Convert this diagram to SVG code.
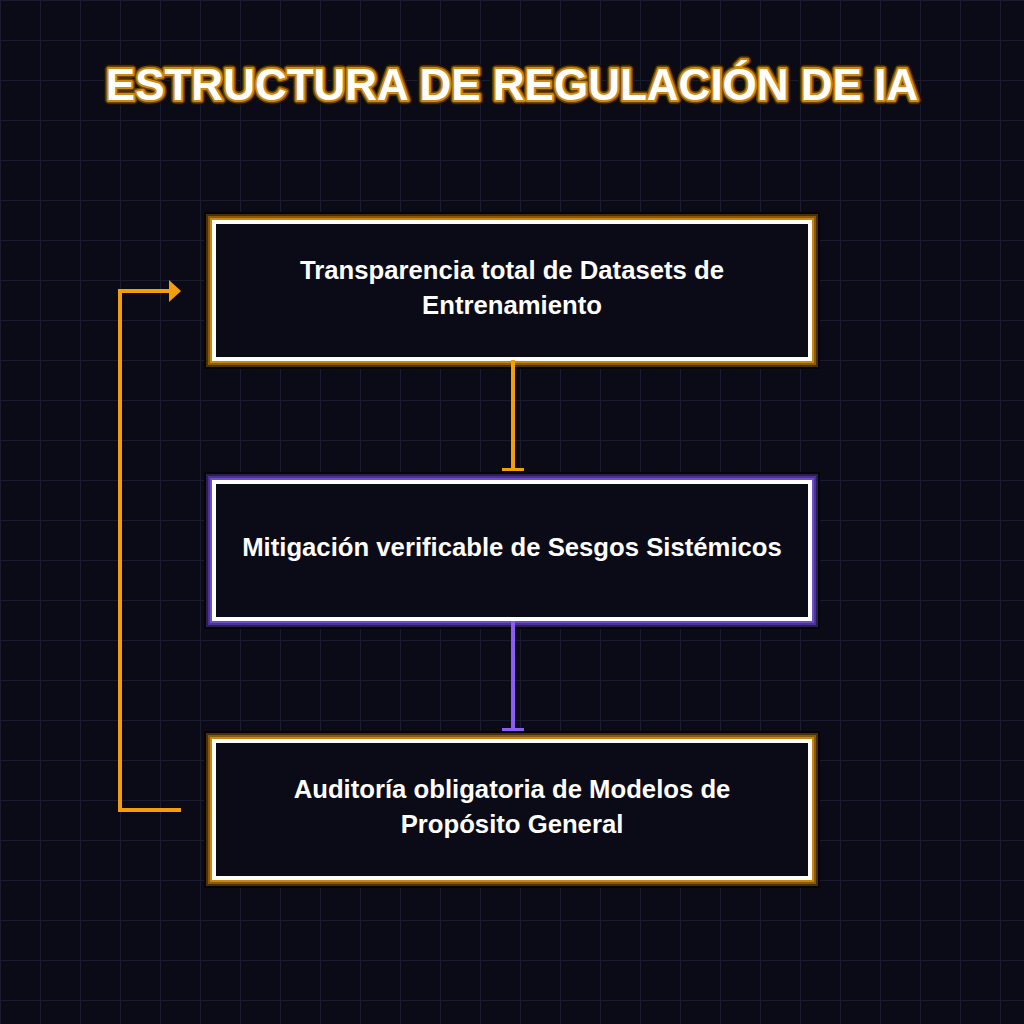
<svg xmlns="http://www.w3.org/2000/svg" width="1024" height="1024" viewBox="0 0 1024 1024">
<defs>
<pattern id="grid" width="40" height="40" patternUnits="userSpaceOnUse">
<path d="M0 0H40M0 0V40" fill="none" stroke="#1b1b30" stroke-width="2"/>
</pattern>
<marker id="teeO" markerUnits="userSpaceOnUse" markerWidth="24" markerHeight="6" refX="12" refY="2" viewBox="0 0 24 6">
<rect x="1" y="0" width="22" height="3" fill="#f59e0b"/>
</marker>
<marker id="teeP" markerUnits="userSpaceOnUse" markerWidth="24" markerHeight="6" refX="12" refY="2" viewBox="0 0 24 6">
<rect x="1" y="0" width="22" height="3" fill="#8b5cf6"/>
</marker>
<marker id="arrO" markerUnits="userSpaceOnUse" markerWidth="12" markerHeight="22" refX="1" refY="11" orient="auto" viewBox="0 0 12 22">
<path d="M0 0L12 11L0 22Z" fill="#f59e0b"/>
</marker>
</defs>
<style>
.bg{fill:#0b0b18}
.t{font-family:"Liberation Sans",Arial,sans-serif;font-weight:bold;fill:#ffffff;text-anchor:middle}
.title{font-size:44px}
.lbl{font-size:25.7px}
.inner{fill:#0b0b18;stroke:#ffffff;stroke-width:4}
.g0{fill:#050505}
.o1{fill:#4a3008}
.o2{fill:#8a5a0c}
.o3{fill:#c98610}
.p1{fill:#2c1d55}
.p2{fill:#4b3390}
.p3{fill:#6e4cd0}
</style>
<rect class="bg" x="0" y="0" width="1024" height="1024"/>
<rect x="0" y="0" width="1024" height="1024" fill="url(#grid)"/>

<g id="title">
<text class="t title" x="512" y="100" stroke="#1a1004" stroke-width="10" stroke-linejoin="round">ESTRUCTURA DE REGULACIÓN DE IA</text>
<text class="t title" x="512" y="100" stroke="#6b4608" stroke-width="7" stroke-linejoin="round">ESTRUCTURA DE REGULACIÓN DE IA</text>
<text class="t title" x="512" y="100" stroke="#d08a12" stroke-width="4" stroke-linejoin="round" paint-order="stroke">ESTRUCTURA DE REGULACIÓN DE IA</text>
</g>

<g id="node1">
<rect class="g0" x="204" y="212" width="616" height="157"/>
<rect class="o1" x="206" y="214" width="612" height="153"/>
<rect class="o2" x="208" y="216" width="608" height="149"/>
<rect class="o3" x="210" y="218" width="604" height="145"/>
<rect class="inner" x="214" y="222" width="596" height="137"/>
<text class="t lbl" x="512" y="279">Transparencia total de Datasets de</text>
<text class="t lbl" x="512" y="314">Entrenamiento</text>
</g>

<g id="node2">
<rect class="g0" x="204" y="472" width="616" height="157"/>
<rect class="p1" x="206" y="474" width="612" height="153"/>
<rect class="p2" x="208" y="476" width="608" height="149"/>
<rect class="p3" x="210" y="478" width="604" height="145"/>
<rect class="inner" x="214" y="482" width="596" height="137"/>
<text class="t lbl" x="512" y="556">Mitigación verificable de Sesgos Sistémicos</text>
</g>

<g id="node3">
<rect class="g0" x="204" y="731" width="616" height="157"/>
<rect class="o1" x="206" y="733" width="612" height="153"/>
<rect class="o2" x="208" y="735" width="608" height="149"/>
<rect class="o3" x="210" y="737" width="604" height="145"/>
<rect class="inner" x="214" y="741" width="596" height="137"/>
<text class="t lbl" x="512" y="798">Auditoría obligatoria de Modelos de</text>
<text class="t lbl" x="512" y="833">Propósito General</text>
</g>

<g id="connectors" fill="none" stroke-width="4">
<path d="M513 360V470" stroke="#f59e0b" marker-end="url(#teeO)"/>
<path d="M513 621V730" stroke="#8b5cf6" marker-end="url(#teeP)"/>
<path d="M181 810H120V291H170" stroke="#f59e0b" stroke-linejoin="miter" marker-end="url(#arrO)"/>
</g>
</svg>
